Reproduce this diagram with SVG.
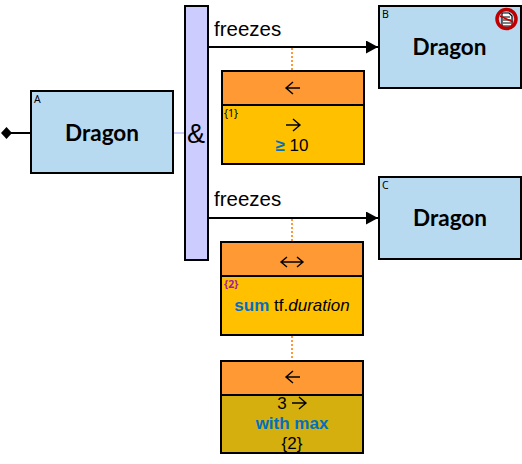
<svg xmlns="http://www.w3.org/2000/svg" width="522" height="464" viewBox="0 0 522 464">
<style>
.b{stroke:#000;stroke-width:2}
.e{fill:#b8daf0}
.h{fill:#ff9933}
.y{fill:#ffc000}
.s{font-family:"Liberation Sans",Arial,sans-serif;font-size:17px;fill:#000;text-anchor:middle}
.f{font-family:"Liberation Sans",Arial,sans-serif;font-size:20.500px;fill:#000}
.d{font-family:Lato,"Noto Sans",sans-serif;font-size:22.500px;font-weight:700;fill:#000;text-anchor:middle}
.t{font-family:"Noto Sans",sans-serif;font-size:10.500px;fill:#000}
.k{fill:#0070c0;font-weight:700}
.l{fill:none;stroke:#000;stroke-width:2}
.o{fill:none;stroke:#ff9933;stroke-width:2;stroke-dasharray:2 2}
.a{fill:none;stroke:#000;stroke-width:1.400}
</style>
<defs>
<marker id="tri" markerUnits="userSpaceOnUse" markerWidth="13" markerHeight="13" refX="12" refY="6.5" orient="auto"><path d="M0 0L12 6.5L0 13Z" fill="#000"/></marker>
<path id="la" d="M7 -6L0 0L7 6M0 0H14"/>
<path id="ra" d="M7 -6L14 0L7 6M0 0H14"/>
</defs>
<g id="connectors">
<path class="l" d="M6 133H31"/>
<path d="M1 133L6.500 127L12 133L6.500 139Z" fill="#000"/>
<path d="M173 133H185" fill="none" stroke="#ccccff" stroke-width="2"/>
<path class="l" d="M208 47H378" marker-end="url(#tri)"/>
<path class="l" d="M208 218H378" marker-end="url(#tri)"/>
<path class="o" d="M292 48V70"/>
<path class="o" d="M292 219V241"/>
<path class="o" d="M292 336V360"/>
</g>
<g id="node-a">
<rect class="b e" x="31" y="91" width="142" height="82"/>
<text class="t" x="34" y="103">A</text>
<text class="d" x="102" y="141">Dragon</text>
</g>
<g id="node-and">
<rect class="b" fill="#ccccff" x="185" y="6" width="23" height="254"/>
<text x="196" y="143" font-family="Liberation Sans,Arial,sans-serif" font-size="27" text-anchor="middle">&amp;</text>
</g>
<g id="label-freezes-1"><text class="f" x="214" y="36">freezes</text></g>
<g id="label-freezes-2"><text class="f" x="214" y="206">freezes</text></g>
<g id="node-b">
<rect class="b e" x="379" y="6" width="142" height="82"/>
<text class="t" x="382" y="18">B</text>
<text class="d" x="449.500" y="55">Dragon</text>
<path d="M502 13H509L512 16V26H502Z" fill="#fff" stroke="#000" stroke-width="1.200"/>
<path d="M503 17H510M503 20H511M503 23H511" stroke="#000" stroke-width="1"/>
<circle cx="506.500" cy="19" r="9.500" fill="none" stroke="#c00000" stroke-width="3.500"/>
<path d="M500 16L513 22" stroke="#c00000" stroke-width="1.500"/>
</g>
<g id="node-c">
<rect class="b e" x="379" y="177" width="142" height="82"/>
<text class="t" x="382" y="189">C</text>
<text class="d" x="450" y="226">Dragon</text>
</g>
<g id="node-1">
<rect class="b y" x="222" y="71" width="142" height="93"/>
<rect class="b h" x="222" y="71" width="142" height="34"/>
<use href="#la" class="a" x="286" y="88"/>
<use href="#ra" class="a" x="286" y="125"/>
<text class="t" x="224" y="117">{1}</text>
<text class="s" x="292" y="151"><tspan class="k">≥</tspan> 10</text>
</g>
<g id="node-2">
<rect class="b y" x="221" y="242" width="142" height="93"/>
<rect class="b h" x="221" y="242" width="142" height="34"/>
<path class="a" d="M281 262H303M287 257L281 262L287 267M297 257L303 262L297 267"/>
<text class="t" x="224" y="288" style="fill:#a020a0;font-weight:700">{2}</text>
<text class="s" x="292" y="311"><tspan class="k">sum</tspan> tf.<tspan font-style="italic">duration</tspan></text>
</g>
<g id="node-3">
<rect class="b" fill="#d4af0e" x="221" y="361" width="142" height="92"/>
<rect class="b h" x="221" y="361" width="142" height="34"/>
<use href="#la" class="a" x="286" y="377"/>
<text class="s" x="282" y="409">3</text>
<use href="#ra" class="a" x="292" y="403"/>
<text class="s k" x="292" y="429" style="fill:#0070c0">with max</text>
<text class="s" x="292" y="449">{2}</text>
</g>
</svg>
